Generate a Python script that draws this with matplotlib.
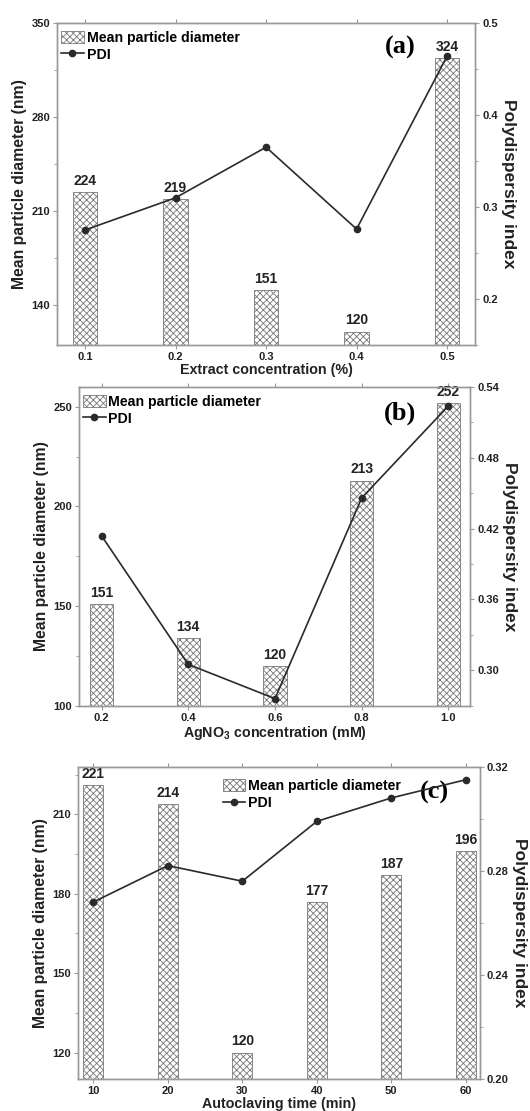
import numpy as np
import matplotlib
matplotlib.use('Agg')
import matplotlib.pyplot as plt
from matplotlib.lines import Line2D
from matplotlib.patches import Patch
from matplotlib.ticker import MultipleLocator

plt.rcParams.update({'font.family': 'Liberation Sans', 'font.weight': 'bold',
                     'mathtext.fontset': 'custom', 'mathtext.rm': 'Liberation Sans:bold',
                     'mathtext.bf': 'Liberation Sans:bold', 'hatch.color': '#666666',
                     'hatch.linewidth': 0.6})

# data
ext_conc = [0.1, 0.2, 0.3, 0.4, 0.5]
ext_diam = [224, 219, 151, 120, 324]
ext_pdi = [0.275, 0.31, 0.365, 0.276, 0.464]

ag_conc = [0.2, 0.4, 0.6, 0.8, 1.0]
ag_diam = [151, 134, 120, 213, 252]
ag_pdi = [0.414, 0.305, 0.276, 0.446, 0.524]

auto_time = [10, 20, 30, 40, 50, 60]
time_diam = [221, 214, 120, 177, 187, 196]
time_pdi = [0.268, 0.282, 0.276, 0.299, 0.308, 0.315]

spine_col = '#999999'
text_col = '#222222'


def panel(fig, rect, x, diam, pdi, width, xlim, ylim, ylim2, ymaj, ymaj2,
          xlabel, tag, tag_xy, leg_xy, xticklabels):
    ax = fig.add_axes(rect)
    ax2 = ax.twinx()
    ax.set_zorder(ax2.get_zorder() - 1)
    ax2.patch.set_visible(False)

    ax.bar(x, diam, width=width, color='white', edgecolor='#777777',
           hatch='xxxxx', linewidth=0.6)
    for xi, d in zip(x, diam):
        ax.annotate(str(d), (xi, d), xytext=(0, 3), textcoords='offset points',
                    ha='center', va='bottom', fontsize=10, fontweight='bold', color=text_col)
    ax2.plot(x, pdi, color='#2a2a2a', lw=1.2, marker='o', ms=4.5)

    ax.set_xlim(*xlim)
    ax.set_ylim(*ylim)
    ax2.set_ylim(*ylim2)
    ax.set_xticks(x)
    ax.set_xticklabels(xticklabels)
    ax.yaxis.set_major_locator(MultipleLocator(ymaj))
    ax.yaxis.set_minor_locator(MultipleLocator(ymaj / 2))
    ax2.yaxis.set_major_locator(MultipleLocator(ymaj2))
    ax2.yaxis.set_minor_locator(MultipleLocator(ymaj2 / 2))

    for a in (ax, ax2):
        for s in a.spines.values():
            s.set_color(spine_col)
            s.set_linewidth(1.0)
        a.tick_params(which='major', direction='out', length=3, width=0.8, color=spine_col,
                      labelsize=8, labelcolor=text_col, pad=2)
        a.tick_params(which='minor', direction='out', length=2, width=0.6, color=spine_col)
    ax.tick_params(axis='x', top=True)

    ax.set_xlabel(xlabel, fontsize=10.3, fontweight='bold', labelpad=1, color=text_col)
    ax.set_ylabel('Mean particle diameter (nm)', fontsize=11.3, fontweight='bold',
                  labelpad=3, color=text_col)
    ax2.set_ylabel('Polydispersity index', fontsize=12.5, fontweight='bold', rotation=270,
                   labelpad=13, color=text_col)

    ax.text(tag_xy[0], tag_xy[1], tag, transform=ax.transAxes, ha='center', va='center',
            fontsize=19, fontweight='bold', family='Liberation Serif', color='black')

    handles = [Patch(facecolor='white', edgecolor='#777777', hatch='xxxxx', lw=0.6,
                     label='Mean particle diameter'),
               Line2D([0], [0], color='#2a2a2a', lw=1.2, marker='o', ms=4.5, label='PDI')]
    ax2.legend(handles=handles, loc='upper left', bbox_to_anchor=leg_xy, frameon=False,
               borderpad=0, borderaxespad=0, handlelength=1.6, handleheight=0.9,
               handletextpad=0.2, labelspacing=0.2,
               prop={'family': 'Liberation Sans', 'weight': 'bold', 'size': 10.2})
    return ax, ax2


fig = plt.figure(figsize=(5.3, 11.11), dpi=100)

panel(fig, [0.1075, 0.6895, 0.789, 0.2898], ext_conc, ext_diam, ext_pdi, 0.027,
      (0.069, 0.531), (110, 350), (0.15, 0.5), 70, 0.1,
      'Extract concentration (%)', '(a)', (0.82, 0.925), (0.01, 0.975),
      ['0.1', '0.2', '0.3', '0.4', '0.5'])

panel(fig, [0.149, 0.3648, 0.738, 0.2869], ag_conc, ag_diam, ag_pdi, 0.054,
      (0.148, 1.05), (100, 260), (0.27, 0.54), 50, 0.06,
      r'AgNO$_\mathbf{3}$ concentration (mM)', '(b)', (0.82, 0.918), (0.01, 0.975),
      ['0.2', '0.4', '0.6', '0.8', '1.0'])

panel(fig, [0.1466, 0.0288, 0.759, 0.2811], auto_time, time_diam, time_pdi, 2.7,
      (7.9, 61.9), (110, 228), (0.20, 0.32), 30, 0.04,
      'Autoclaving time (min)', '(c)', (0.888, 0.916), (0.36, 0.96),
      ['10', '20', '30', '40', '50', '60'])

plt.savefig('out.png', dpi=100)
